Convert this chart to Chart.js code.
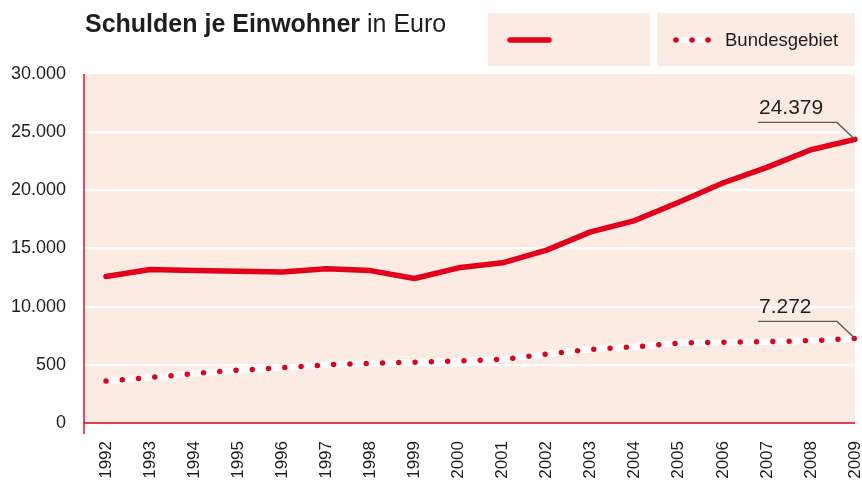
<!DOCTYPE html>
<html lang="de">
<head>
<meta charset="utf-8">
<script src="https://cdn.jsdelivr.net/npm/chart.js@4/dist/chart.umd.min.js"></script>
<style>
  html, body { margin: 0; padding: 0; background: #fff; }
  canvas { display: block; }
</style>
</head>
<body>
<canvas id="c" width="862" height="489"></canvas>
<script>
// Jahre und Pro-Kopf-Verschuldung in Euro
const years = [1992, 1993, 1994, 1995, 1996, 1997, 1998, 1999, 2000,
               2001, 2002, 2003, 2004, 2005, 2006, 2007, 2008, 2009];
const yearLabels = years.map(String);
const schuldenStadt = [12590, 13190, 13100, 13050, 12990, 13250, 13100, 12420, 13340,
                       13770, 14860, 16430, 17400, 18970, 20630, 21970, 23490, 24379];
const schuldenBund = [3620, 3910, 4250, 4540, 4750, 5000, 5120, 5230, 5340,
                      5470, 5920, 6330, 6550, 6870, 6950, 6990, 7070, 7272];
const yTickValues = [0, 5000, 10000, 15000, 20000, 25000, 30000];
const yTickLabels = ['0', '500', '10.000', '15.000', '20.000', '25.000', '30.000'];
const seriesNames = ['', 'Bundesgebiet'];
const titleBold = 'Schulden je Einwohner';
const titleRest = ' in Euro';

const RED = '#e2001a';
const PEACH = '#fcebe3';
const INK = '#1e1e1e';
const LEADER = '#5c5c5c';
const FONT = '"Liberation Sans", Arial, Helvetica, sans-serif';

function fmtDE(v) {
  return String(Math.round(v)).replace(/\B(?=(\d{3})+(?!\d))/g, '.');
}
function points(values) {
  return values.map((v, i) => ({ x: years[i], y: v }));
}

const decor = {
  id: 'decor',
  beforeDraw(chart) {
    const { ctx, chartArea: a } = chart;
    ctx.save();
    ctx.fillStyle = PEACH;
    ctx.fillRect(a.left, a.top, a.right - a.left, a.bottom - a.top);
    ctx.restore();
  },
  afterDatasetsDraw(chart) {
    const { ctx, chartArea: a } = chart;
    ctx.save();
    // Achsen
    ctx.strokeStyle = RED;
    ctx.lineWidth = 1.4;
    ctx.beginPath();
    ctx.moveTo(a.left, a.top);
    ctx.lineTo(a.left, a.bottom + 11);
    ctx.moveTo(a.left, a.bottom);
    ctx.lineTo(a.right, a.bottom);
    ctx.stroke();

    // Wertbeschriftung am letzten Punkt beider Reihen
    [0, 2].forEach(di => {
      const meta = chart.getDatasetMeta(di);
      const last = meta.data[meta.data.length - 1];
      const val = chart.data.datasets[di].data[meta.data.length - 1].y;
      const px = last.x, py = last.y;
      ctx.strokeStyle = LEADER;
      ctx.lineWidth = 1.4;
      ctx.beginPath();
      ctx.moveTo(px - 97, py - 17);
      ctx.lineTo(px - 18, py - 17);
      ctx.lineTo(px, py);
      ctx.stroke();
      ctx.fillStyle = INK;
      ctx.font = '21px ' + FONT;
      ctx.textAlign = 'left';
      ctx.textBaseline = 'alphabetic';
      ctx.fillText(fmtDE(val), px - 96, py - 25);
    });
    ctx.restore();
  },
  afterDraw(chart) {
    const { ctx } = chart;
    ctx.save();
    // Titel
    ctx.fillStyle = INK;
    ctx.textBaseline = 'alphabetic';
    ctx.textAlign = 'left';
    ctx.font = 'bold 25px ' + FONT;
    ctx.fillText(titleBold, 85, 32);
    const w = ctx.measureText(titleBold).width;
    ctx.font = '25px ' + FONT;
    ctx.fillText(titleRest, 85 + w, 32);

    // Legende
    ctx.fillStyle = PEACH;
    ctx.fillRect(488, 13, 162, 53);
    ctx.fillRect(657, 13, 198, 53);

    ctx.lineCap = 'round';
    ctx.strokeStyle = RED;
    ctx.lineWidth = 5.5;
    ctx.beginPath();
    ctx.moveTo(510, 40);
    ctx.lineTo(549, 40);
    ctx.stroke();

    ctx.strokeStyle = '#ffffff';
    ctx.lineWidth = 5.5;
    ctx.lineCap = 'butt';
    ctx.beginPath();
    ctx.moveTo(676, 40);
    ctx.lineTo(708, 40);
    ctx.stroke();
    ctx.fillStyle = RED;
    [676, 692, 708].forEach(x => {
      ctx.beginPath();
      ctx.arc(x, 40, 2.8, 0, Math.PI * 2);
      ctx.fill();
    });

    ctx.fillStyle = INK;
    ctx.font = '18.5px ' + FONT;
    ctx.fillText(seriesNames[1], 725, 46);
    ctx.restore();
  }
};

new Chart(document.getElementById('c'), {
  type: 'line',
  data: {
    datasets: [
      {
        label: seriesNames[0],
        data: points(schuldenStadt),
        borderColor: RED,
        borderWidth: 5.5,
        borderCapStyle: 'round',
        borderJoinStyle: 'round',
        pointRadius: 0,
        tension: 0,
        clip: false,
        order: 1
      },
      {
        label: 'underlay',
        data: points(schuldenBund),
        borderColor: '#ffffff',
        borderWidth: 6.5,
        pointRadius: 0,
        tension: 0,
        clip: false,
        order: 3
      },
      {
        label: seriesNames[1],
        data: points(schuldenBund),
        borderColor: RED,
        borderWidth: 5.5,
        borderDash: [0, 16.3],
        borderCapStyle: 'round',
        pointRadius: 0,
        tension: 0,
        clip: false,
        order: 2
      }
    ]
  },
  options: {
    responsive: false,
    animation: false,
    devicePixelRatio: 1,
    layout: { padding: { top: 74, right: 7, left: 0, bottom: 0 } },
    plugins: {
      legend: { display: false },
      title: { display: false },
      tooltip: { enabled: false }
    },
    scales: {
      x: {
        type: 'linear',
        min: 1991.5,
        max: 2009,
        grid: { display: false, drawTicks: false },
        border: { display: false },
        afterFit(scale) {
          scale.height = 66;
          scale.paddingLeft = 0;
          scale.paddingRight = 0;
        },
        afterBuildTicks(scale) { scale.ticks = years.map(v => ({ value: v })); },
        ticks: {
          autoSkip: false,
          minRotation: 90,
          maxRotation: 90,
          padding: 18,
          color: INK,
          font: { family: FONT, size: 17 },
          callback: (v, i) => yearLabels[i]
        }
      },
      y: {
        min: 0,
        max: 30000,
        grid: {
          drawTicks: false,
          lineWidth: 2.3,
          color: ctx => (ctx.tick && (ctx.tick.value === 0 || ctx.tick.value === 30000)) ? 'rgba(0,0,0,0)' : '#ffffff'
        },
        border: { display: false },
        afterFit(scale) {
          scale.width = 84;
          scale.paddingTop = 0;
          scale.paddingBottom = 0;
        },
        afterBuildTicks(scale) { scale.ticks = yTickValues.map(v => ({ value: v })); },
        ticks: {
          padding: 18,
          color: INK,
          font: { family: FONT, size: 18 },
          callback: (v, i) => yTickLabels[i]
        }
      }
    }
  },
  plugins: [decor]
});
</script>
</body>
</html>
